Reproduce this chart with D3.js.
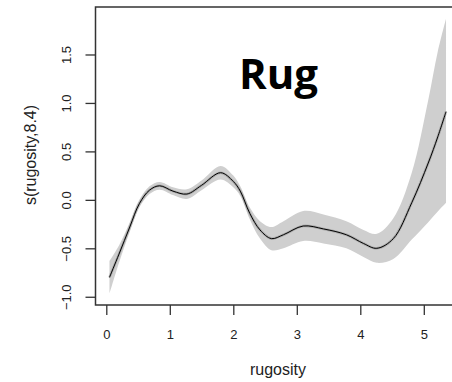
<!DOCTYPE html>
<html>
<head>
<meta charset="utf-8">
<script src="https://cdn.jsdelivr.net/npm/d3@7"></script>
<style>
  body { margin: 0; background: #fff; }
  .axis text { font-family: "Liberation Sans", Arial, sans-serif; fill: #222; }
</style>
</head>
<body>
<div class="gam-container"></div>
<script>
// rugosity values where the curve was read
const rugosity = [0.05, 0.2, 0.37, 0.52, 0.68, 0.84, 1.05, 1.27, 1.5, 1.8, 2.0, 2.11, 2.26, 2.42,
    2.6, 2.79, 3.1, 3.42, 3.78, 4.05, 4.26, 4.52, 4.81, 5.07, 5.22, 5.35];
// smooth s(rugosity,8.4)
const fit = [-0.80, -0.56, -0.28, -0.04, 0.10, 0.145, 0.09, 0.06, 0.15, 0.28, 0.19, 0.09, -0.14, -0.31,
    -0.40, -0.36, -0.27, -0.30, -0.36, -0.45, -0.50, -0.40, -0.03, 0.38, 0.65, 0.91];
// confidence band
const upper = [-0.63, -0.47, -0.23, 0.00, 0.14, 0.185, 0.13, 0.11, 0.20, 0.35, 0.25, 0.14, -0.08, -0.22,
    -0.28, -0.22, -0.115, -0.15, -0.22, -0.31, -0.35, -0.19, 0.28, 1.03, 1.53, 1.87];
const lower = [-0.97, -0.65, -0.33, -0.08, 0.06, 0.105, 0.05, 0.01, 0.10, 0.21, 0.13, 0.04, -0.20, -0.40,
    -0.52, -0.50, -0.425, -0.45, -0.50, -0.59, -0.65, -0.61, -0.41, -0.23, -0.12, -0.03];
// ticks
const xTicks = [0, 1, 2, 3, 4, 5];
const yTicks = [-1.0, -0.5, 0.0, 0.5, 1.0, 1.5];

const data = rugosity.map((x, i) => ({ x: x, fit: fit[i], lo: lower[i], hi: upper[i] }));

function setupCanvas(data) {
    const svg_width = 452;
    const svg_height = 382;
    const box = { left: 95.5, top: 7, right: 460, bottom: 305 };

    const svg = d3.select('.gam-container').append('svg')
        .attr('width', svg_width).attr('height', svg_height);

    // scales (R style 4% extension of data range)
    const xScale = d3.scaleLinear().domain([-0.17, 5.57]).range([box.left, box.right]);
    const yScale = d3.scaleLinear().domain([-1.085, 1.99]).range([box.bottom, box.top]);

    // band
    const area = d3.area()
        .x(d => xScale(d.x))
        .y0(d => yScale(d.lo))
        .y1(d => yScale(d.hi))
        .curve(d3.curveCatmullRom.alpha(0.5));
    svg.append('path').datum(data)
        .attr('d', area)
        .style('fill', '#cfcfcf');

    // fitted line
    const line = d3.line()
        .x(d => xScale(d.x))
        .y(d => yScale(d.fit))
        .curve(d3.curveCatmullRom.alpha(0.5));
    svg.append('path').datum(data)
        .attr('d', line)
        .style('fill', 'none').style('stroke', '#888').style('stroke-width', 2.6).style('opacity', 0.5);
    svg.append('path').datum(data)
        .attr('d', line)
        .style('fill', 'none').style('stroke', '#000').style('stroke-width', 1);

    // box
    svg.append('rect')
        .attr('x', box.left).attr('y', box.top)
        .attr('width', box.right - box.left).attr('height', box.bottom - box.top)
        .style('fill', 'none').style('stroke', '#333').style('stroke-width', 1.5);

    // axes
    const xAxis = d3.axisBottom(xScale).tickValues(xTicks).tickFormat(d3.format('d'))
        .tickSizeInner(10).tickSizeOuter(0).tickPadding(15);
    const xAxisDraw = svg.append('g').attr('class', 'x axis')
        .attr('transform', `translate(0,${box.bottom})`).call(xAxis);
    xAxisDraw.select('.domain').remove();
    xAxisDraw.selectAll('line').style('stroke', '#333').style('stroke-width', 1.3);
    xAxisDraw.selectAll('text').style('font-size', '13px');

    const yAxis = d3.axisLeft(yScale).tickValues(yTicks)
        .tickFormat(d3.format('.1f'))
        .tickSizeInner(10).tickSizeOuter(0);
    const yAxisDraw = svg.append('g').attr('class', 'y axis')
        .attr('transform', `translate(${box.left},0)`).call(yAxis);
    yAxisDraw.select('.domain').remove();
    yAxisDraw.selectAll('line').style('stroke', '#333').style('stroke-width', 1.3);
    // R draws y labels parallel to the axis
    yAxisDraw.selectAll('text')
        .style('font-size', '13px')
        .attr('x', 0).attr('y', 0).attr('dy', null)
        .attr('text-anchor', 'middle')
        .attr('dominant-baseline', 'central')
        .attr('transform', 'translate(-29,0) rotate(-90)');

    // axis titles
    const titles = svg.append('g').attr('class', 'axis');
    titles.append('text')
        .attr('x', 278).attr('y', 375)
        .attr('text-anchor', 'middle')
        .style('font-size', '16px')
        .text('rugosity');
    titles.append('text')
        .attr('transform', 'translate(30,155) rotate(-90)')
        .attr('text-anchor', 'middle')
        .attr('dominant-baseline', 'central')
        .style('font-size', '16px')
        .text('s(rugosity,8.4)');

    // big label
    svg.append('text')
        .attr('x', 278.5).attr('y', 89)
        .attr('text-anchor', 'middle')
        .style('font-family', '"Open Sans", sans-serif')
        .style('font-weight', 'bold')
        .style('font-size', '42px')
        .style('fill', '#000')
        .text('Rug');
}

setupCanvas(data);
</script>
</body>
</html>
